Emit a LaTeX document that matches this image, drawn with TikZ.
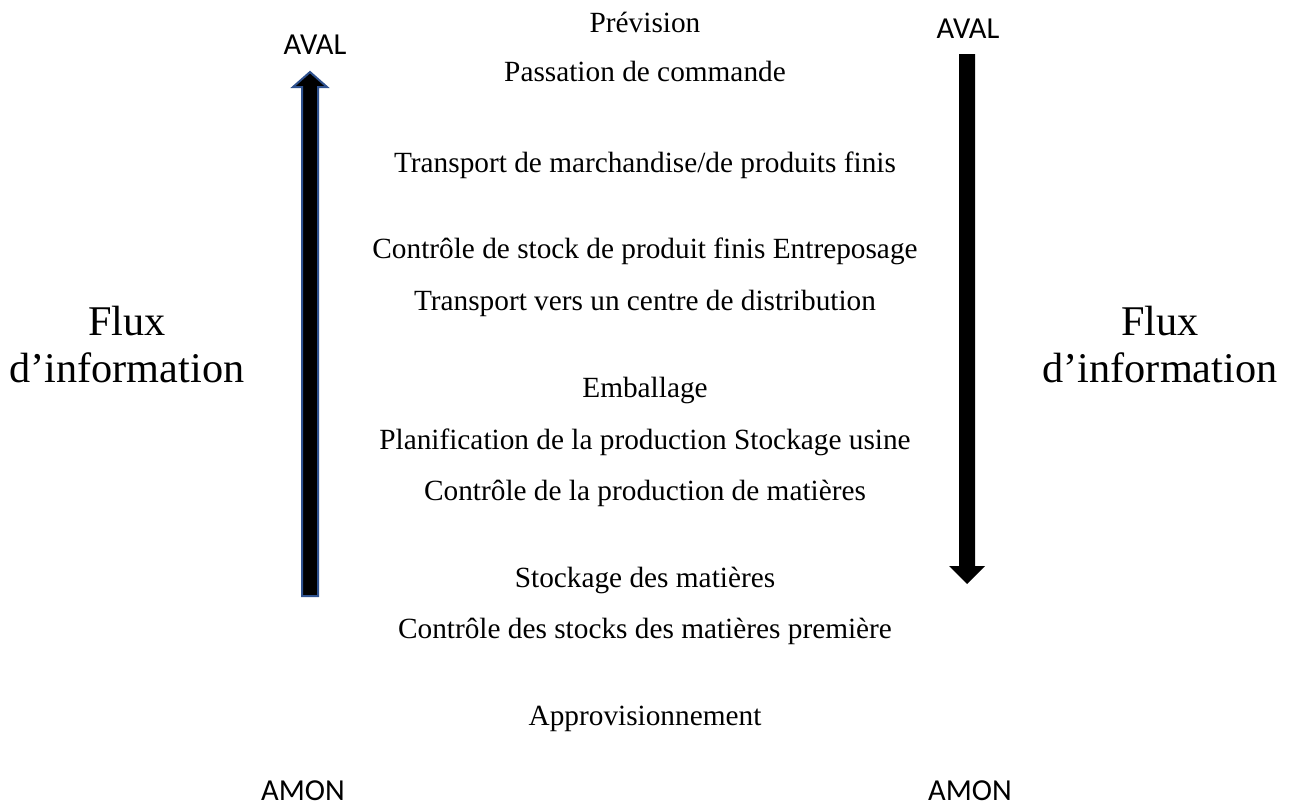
\documentclass[tikz,border=0pt]{standalone}
\usepackage{fontspec}
\setmainfont{Liberation Serif}
\newfontfamily\calibri{Carlito}
\definecolor{outlineblue}{HTML}{2F528F}
\begin{document}
\begin{tikzpicture}[x=1pt,y=-1pt,
  stepline/.style={font=\fontsize{29.3}{34}\selectfont, anchor=base, inner sep=0pt},
  flux/.style={font=\fontsize{42.3}{47}\selectfont, anchor=base, inner sep=0pt},
  tag/.style={font=\calibri\fontsize{30.5}{36}\selectfont, anchor=base, inner sep=0pt},
  upar/.style={draw=outlineblue, line width=2pt, fill=black, line join=miter},
  downar/.style={draw=none, fill=black}]
\useasboundingbox (0,0) rectangle (1289,807);

% activity list along the chain
\node[stepline] (s1) at (645,32) {Prévision};
\node[stepline] (s2) at (645,81) {Passation de commande};
\node[stepline] (s3) at (645,172) {Transport de marchandise/de produits finis};
\node[stepline] (s4) at (645,258) {Contrôle de stock de produit finis Entreposage};
\node[stepline] (s5) at (645,310) {Transport vers un centre de distribution};
\node[stepline] (s6) at (645,397) {Emballage};
\node[stepline] (s7) at (645,449) {Planification de la production Stockage usine};
\node[stepline] (s8) at (645,500) {Contrôle de la production de matières};
\node[stepline] (s9) at (645,587) {Stockage des matières};
\node[stepline] (s10) at (645,638) {Contrôle des stocks des matières première};
\node[stepline] (s11) at (645,725) {Approvisionnement};

% side captions
\node[flux] (fl1) at (127,335) {Flux};
\node[flux] (fl2) at (127,382) {d’information};
\node[flux] (fr1) at (1160,335) {Flux};
\node[flux] (fr2) at (1160,382) {d’information};

\node[tag] (avl) at (315,54) {AVAL};
\node[tag] (avr) at (968,38) {AVAL};
\node[tag] (aml) at (303,800) {AMON};
\node[tag] (amr) at (970,800) {AMON};

% upward block arrow (left)
\draw[upar] (302,596) -- (302,87) -- (293,87) -- (310,72) -- (327,87) -- (318,87) -- (318,596) -- cycle;
% downward block arrow (right)
\fill[downar] (959,54) -- (975,54) -- (975,566) -- (985,566) -- (967,584) -- (949,566) -- (959,566) -- cycle;
\end{tikzpicture}
\end{document}
